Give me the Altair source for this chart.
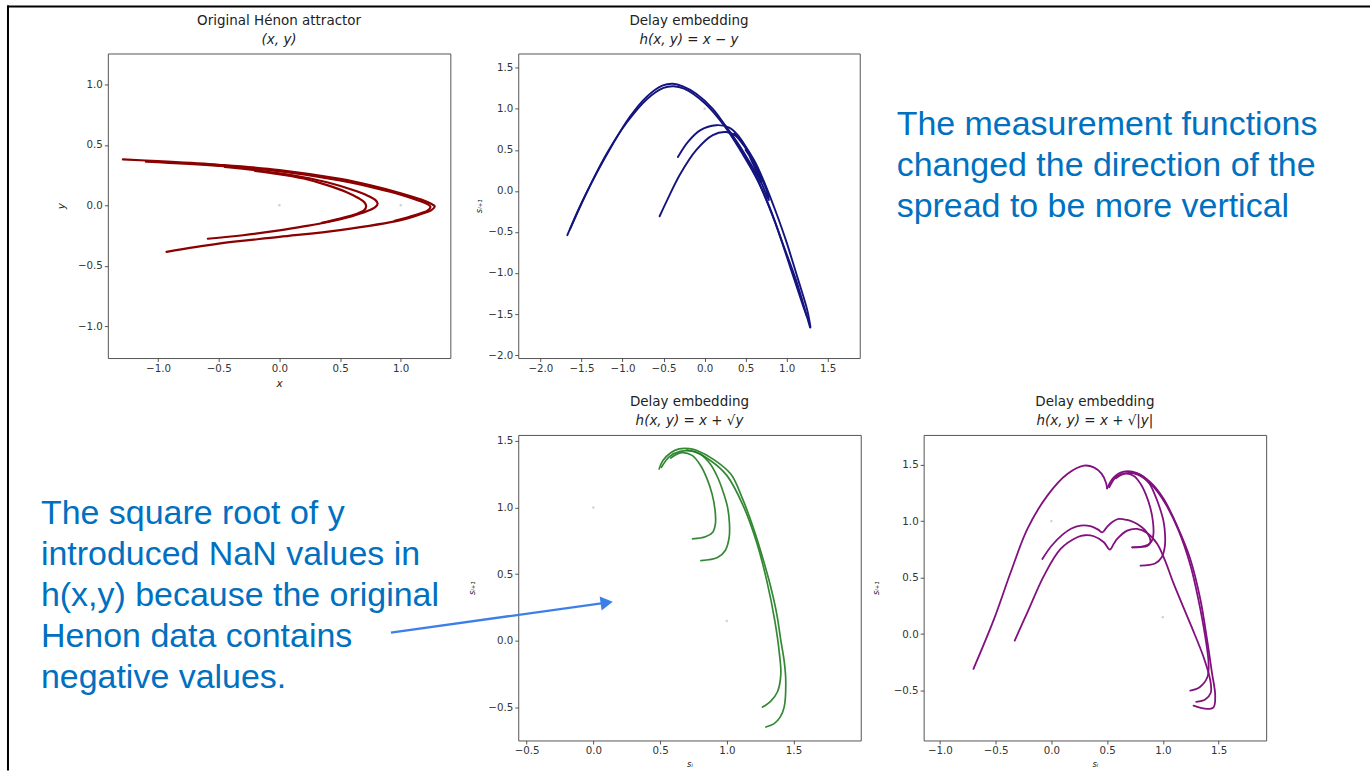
import altair as alt
import pandas as pd

# ---------------- colours / notes ----------------
NOTE_COLOR = "#0070C0"
ARROW_COLOR = "#3D7FE8"
RIGHT_NOTE = ["The measurement functions", "changed the direction of the", "spread to be more vertical"]
LEFT_NOTE = ["The square root of y", "introduced NaN values in", "h(x,y) because the original",
             "Henon data contains", "negative values."]

# ---------------- Panel 1: original Hénon attractor (x, y) ----------------
HENON_OUTER_X = [-1.29, -1.0, -0.5, 0.0, 0.5, 0.76, 1.0, 1.17, 1.25, 1.28, 1.25, 1.17, 1.0, 0.5, 0.0, -0.5, -0.93]
HENON_OUTER_Y = [0.38, 0.365, 0.335, 0.292, 0.218, 0.163, 0.10, 0.047, 0.012, -0.008, -0.042, -0.072, -0.123, -0.205, -0.262, -0.317, -0.385]
HENON_OUTER2_X = [-1.10, -0.5, 0.0, 0.5, 0.8, 1.0, 1.15, 1.22, 1.245, 1.22, 1.12, 0.95]
HENON_OUTER2_Y = [0.36, 0.326, 0.282, 0.205, 0.14, 0.088, 0.038, 0.01, -0.012, -0.045, -0.08, -0.128]
HENON_INNER_X = [-0.45, -0.2, 0.0, 0.2, 0.4, 0.6, 0.72, 0.79, 0.81, 0.79, 0.72, 0.6, 0.4, 0.2, 0.0, -0.3, -0.59]
HENON_INNER_Y = [0.318, 0.29, 0.265, 0.232, 0.188, 0.128, 0.083, 0.045, 0.015, -0.015, -0.05, -0.09, -0.138, -0.175, -0.208, -0.248, -0.277]
HENON_INNER2_X = [-0.2, 0.05, 0.2, 0.4, 0.55, 0.65, 0.70, 0.715, 0.70, 0.64, 0.5, 0.35]
HENON_INNER2_Y = [0.285, 0.25, 0.222, 0.165, 0.11, 0.06, 0.025, -0.008, -0.04, -0.07, -0.11, -0.145]
HENON_DOTS_X = [0.0, 1.0]
HENON_DOTS_Y = [0.0, 0.0]
P1_TICKS = [-1.0, -0.5, 0.0, 0.5, 1.0]

# ---------------- Panel 2: h(x, y) = x - y ----------------
DIFF_BIG_X = [-1.672, -1.522, -1.319, -1.116, -0.913, -0.71, -0.508, -0.386, -0.264, -0.102, 0.10, 0.263, 0.425, 0.628, 0.79, 0.952, 1.114, 1.236, 1.285]
DIFF_BIG_Y = [-0.54, -0.195, 0.21, 0.575, 0.90, 1.143, 1.285, 1.305, 1.273, 1.184, 1.0, 0.778, 0.535, 0.17, -0.195, -0.641, -1.087, -1.493, -1.665]
DIFF_BIG2_X = [-1.64, -1.45, -1.2, -0.95, -0.7, -0.5, -0.38, -0.25, 0.0, 0.25, 0.45, 0.65, 0.85, 1.05, 1.2, 1.245]
DIFF_BIG2_Y = [-0.47, -0.05, 0.44, 0.83, 1.12, 1.255, 1.275, 1.245, 1.07, 0.78, 0.47, 0.12, -0.36, -0.95, -1.4, -1.53]
DIFF_LOOP_X = [0.25, 0.42, 0.56, 0.65, 0.689, 0.672, 0.61, 0.50, 0.36]
DIFF_LOOP_Y = [0.80, 0.56, 0.33, 0.17, 0.097, 0.18, 0.33, 0.52, 0.70]
DIFF_ARC_UP_X = [-0.325, -0.2, -0.05, 0.14, 0.30, 0.45, 0.588, 0.70, 0.782, 0.765, 0.71, 0.62, 0.50]
DIFF_ARC_UP_Y = [0.413, 0.60, 0.74, 0.80, 0.77, 0.62, 0.332, 0.08, -0.114, -0.02, 0.12, 0.31, 0.50]
DIFF_ARC_LOW_X = [-0.548, -0.45, -0.30, -0.10, 0.10, 0.263, 0.42, 0.60, 0.75, 0.87, 0.99, 1.13, 1.25, 1.29]
DIFF_ARC_LOW_Y = [-0.309, -0.10, 0.20, 0.50, 0.68, 0.717, 0.64, 0.38, 0.05, -0.26, -0.60, -1.05, -1.45, -1.66]
DIFF_DOTS_X = [0.0]
DIFF_DOTS_Y = [1.0]
P2_TICKS = [-2.0, -1.5, -1.0, -0.5, 0.0, 0.5, 1.0, 1.5]

# ---------------- Panel 3: h(x, y) = x + sqrt(y) ----------------
SQRT_OUTER_X = [0.493, 0.52, 0.58, 0.643, 0.72, 0.781, 0.90, 1.03, 1.12, 1.205, 1.27, 1.33, 1.375, 1.405, 1.43, 1.442, 1.43, 1.40, 1.355, 1.293]
SQRT_OUTER_Y = [1.288, 1.35, 1.41, 1.438, 1.44, 1.425, 1.36, 1.25, 1.06, 0.83, 0.62, 0.403, 0.2, 0.004, -0.15, -0.295, -0.495, -0.57, -0.619, -0.644]
SQRT_OUTER2_X = [0.51, 0.57, 0.65, 0.75, 0.88, 1.0, 1.12, 1.22, 1.30, 1.36, 1.395, 1.405, 1.38, 1.33, 1.268]
SQRT_OUTER2_Y = [1.30, 1.38, 1.42, 1.42, 1.35, 1.24, 1.02, 0.75, 0.45, 0.15, -0.10, -0.25, -0.38, -0.45, -0.495]
SQRT_HOOK1_X = [0.58, 0.66, 0.74, 0.80, 0.85, 0.89, 0.912, 0.915, 0.895, 0.84, 0.743]
SQRT_HOOK1_Y = [1.37, 1.41, 1.39, 1.32, 1.22, 1.10, 0.98, 0.88, 0.815, 0.78, 0.765]
SQRT_HOOK2_X = [0.70, 0.80, 0.88, 0.931, 0.975, 1.006, 1.02, 1.018, 0.99, 0.93, 0.806]
SQRT_HOOK2_Y = [1.43, 1.40, 1.32, 1.226, 1.11, 1.001, 0.88, 0.777, 0.68, 0.625, 0.602]
SQRT_DOTS_X = [0.0, 1.0]
SQRT_DOTS_Y = [1.0, 0.15]
P3_TICKS = [-0.5, 0.0, 0.5, 1.0, 1.5]
ARROW_X = [-1.517, 0.10]
ARROW_Y = [0.063, 0.287]

# ---------------- Panel 4: h(x, y) = x + sqrt(|y|) ----------------
ABS_LEFT_X = [-0.699, -0.514, -0.365, -0.215, -0.036, 0.143, 0.292, 0.381, 0.45, 0.49, 0.50]
ABS_LEFT_Y = [-0.308, 0.134, 0.547, 0.931, 1.226, 1.417, 1.491, 1.476, 1.42, 1.34, 1.29]
ABS_RIGHT_X = [0.50, 0.56, 0.65, 0.769, 0.888, 1.008, 1.127, 1.246, 1.336, 1.396, 1.44, 1.47, 1.455, 1.396, 1.276]
ABS_RIGHT_Y = [1.29, 1.388, 1.438, 1.426, 1.344, 1.196, 0.96, 0.665, 0.311, -0.043, -0.338, -0.544, -0.648, -0.662, -0.633]
ABS_RIGHT2_X = [0.52, 0.58, 0.67, 0.78, 0.90, 1.02, 1.14, 1.25, 1.32, 1.38, 1.41, 1.40, 1.33, 1.246]
ABS_RIGHT2_Y = [1.30, 1.39, 1.425, 1.41, 1.32, 1.16, 0.92, 0.60, 0.30, -0.02, -0.25, -0.38, -0.47, -0.50]
ABS_HOOK1_X = [0.58, 0.66, 0.74, 0.80, 0.85, 0.89, 0.912, 0.915, 0.895, 0.84, 0.725]
ABS_HOOK1_Y = [1.38, 1.42, 1.40, 1.33, 1.23, 1.11, 0.99, 0.88, 0.815, 0.78, 0.768]
ABS_HOOK2_X = [0.70, 0.80, 0.88, 0.93, 0.975, 1.006, 1.02, 1.018, 0.99, 0.93, 0.80]
ABS_HOOK2_Y = [1.43, 1.41, 1.33, 1.23, 1.11, 1.0, 0.88, 0.777, 0.68, 0.625, 0.606]
ABS_MID_UP_X = [-0.081, 0.0, 0.10, 0.18, 0.262, 0.35, 0.42, 0.457, 0.50, 0.55, 0.605, 0.68, 0.74, 0.80, 0.844, 0.88, 0.889, 0.86, 0.80, 0.725]
ABS_MID_UP_Y = [0.665, 0.78, 0.88, 0.935, 0.96, 0.955, 0.925, 0.90, 0.95, 0.995, 1.02, 1.01, 0.99, 0.955, 0.916, 0.86, 0.81, 0.78, 0.77, 0.768]
ABS_MID_LOW_X = [-0.329, -0.215, -0.066, 0.083, 0.232, 0.30, 0.381, 0.471, 0.524, 0.56, 0.59, 0.68, 0.769, 0.859, 0.949, 1.02, 1.098, 1.247, 1.366, 1.426, 1.43, 1.38, 1.30]
ABS_MID_LOW_Y = [-0.058, 0.193, 0.518, 0.754, 0.857, 0.875, 0.866, 0.813, 0.748, 0.80, 0.842, 0.916, 0.931, 0.895, 0.80, 0.65, 0.444, 0.09, -0.205, -0.412, -0.52, -0.58, -0.60]
ABS_DOTS_X = [0.0, 1.0]
ABS_DOTS_Y = [1.0, 0.15]
P4_XTICKS = [-1.0, -0.5, 0.0, 0.5, 1.0, 1.5]
P4_YTICKS = [-0.5, 0.0, 0.5, 1.0, 1.5]


def segments_df(segs):
    rows = []
    for name, xs, ys in segs:
        for i, (xv, yv) in enumerate(zip(xs, ys)):
            rows.append({"seg": name, "i": i, "x": xv, "y": yv})
    return pd.DataFrame(rows)


def xy_enc(xdom, ydom, xticks, yticks, xtitle, ytitle, xtp, ytp, tsize):
    x = alt.X("x:Q", scale=alt.Scale(domain=xdom, nice=False, zero=False),
              axis=alt.Axis(values=xticks, format=".1f", title=xtitle, titlePadding=xtp, titleFontSize=tsize))
    y = alt.Y("y:Q", scale=alt.Scale(domain=ydom, nice=False, zero=False),
              axis=alt.Axis(values=yticks, format=".1f", title=ytitle, titlePadding=ytp, titleFontSize=tsize))
    return x, y


def title_params(text, sub):
    return alt.TitleParams(text=text, subtitle=sub, font="DejaVu Sans", fontSize=13.5, fontWeight="normal",
                           color="#222222", subtitleFont="DejaVu Sans", subtitleFontSize=13.5,
                           subtitleFontStyle="italic", subtitleColor="#222222", anchor="middle",
                           frame="group", offset=7, subtitlePadding=6)


def curve_layers(segs, dots, color, sw, x, y, opacity=1.0):
    lines = alt.Chart(segments_df(segs)).mark_line(
        color=color, strokeWidth=sw, interpolate="catmull-rom", strokeCap="round",
        strokeJoin="round", opacity=opacity
    ).encode(x=x, y=y, detail="seg:N", order="i:Q")
    pts = alt.Chart(pd.DataFrame({"x": dots[0], "y": dots[1]})).mark_point(
        filled=True, size=6, color="#c4c4c4", opacity=0.8
    ).encode(x=x, y=y)
    return [lines, pts]


def note_text(lines, dx, dy):
    return alt.Chart(pd.DataFrame({"t": ["\n".join(lines)]})).mark_text(
        align="left", baseline="alphabetic", font="Liberation Sans", fontSize=34, lineHeight=41,
        lineBreak="\n", color=NOTE_COLOR
    ).encode(text="t:N", x=alt.value(dx), y=alt.value(dy))


one = pd.DataFrame({"k": [0]})

# ---- panel 1 ----
x1, y1 = xy_enc([-1.414, 1.409], [-1.264, 1.256], P1_TICKS, P1_TICKS, "x", "y", 5, 11, 10.5)
p1 = alt.layer(
    *curve_layers([("outer", HENON_OUTER_X, HENON_OUTER_Y), ("outer2", HENON_OUTER2_X, HENON_OUTER2_Y),
                   ("inner", HENON_INNER_X, HENON_INNER_Y), ("inner2", HENON_INNER2_X, HENON_INNER2_Y)],
                  (HENON_DOTS_X, HENON_DOTS_Y), "#8B0000", 2.2, x1, y1)
).properties(width=343, height=305, title=title_params("Original Hénon attractor", "(x, y)"))

# ---- panel 2 ----
x2, y2 = xy_enc([-2.27, 1.89], [-2.036, 1.674], P2_TICKS, P2_TICKS, "", "sᵢ₊₁", 5, 4, 8.5)
p2 = alt.layer(
    *curve_layers([("big", DIFF_BIG_X, DIFF_BIG_Y), ("big2", DIFF_BIG2_X, DIFF_BIG2_Y),
                   ("loop", DIFF_LOOP_X, DIFF_LOOP_Y), ("up", DIFF_ARC_UP_X, DIFF_ARC_UP_Y),
                   ("low", DIFF_ARC_LOW_X, DIFF_ARC_LOW_Y)],
                  (DIFF_DOTS_X, DIFF_DOTS_Y), "#14147F", 1.9, x2, y2)
).properties(width=342, height=305, title=title_params("Delay embedding", "h(x, y) = x − y"))

# ---- right note cell (top row, third column) with the slide frame ----
frame_top = alt.Chart(one).mark_rule(color="black", strokeWidth=2).encode(
    x=alt.value(-918), x2=alt.value(447), y=alt.value(-47))
frame_left = alt.Chart(one).mark_rule(color="black", strokeWidth=2).encode(
    x=alt.value(-917), y=alt.value(-48), y2=alt.value(718))
right_cell = alt.layer(
    note_text(RIGHT_NOTE, -27, 82), frame_top, frame_left
).properties(width=60, height=305, view=alt.ViewBackground(stroke="transparent"))

# ---- panel 3 ----
x3, y3 = xy_enc([-0.563, 2.004], [-0.745, 1.543], P3_TICKS, P3_TICKS, "sᵢ", "sᵢ₊₁", 3, 11, 8.5)
arrow_df = pd.DataFrame({"x": ARROW_X, "y": ARROW_Y, "i": list(range(len(ARROW_X)))})
arrow_line = alt.Chart(arrow_df).mark_line(color=ARROW_COLOR, strokeWidth=2.4).encode(x=x3, y=y3, order="i:Q")
arrow_head = alt.Chart(arrow_df.tail(1)).mark_point(
    shape="triangle-right", filled=True, size=200, angle=352, color=ARROW_COLOR, opacity=1
).encode(x=x3, y=y3)
p3 = alt.layer(
    *curve_layers([("outer", SQRT_OUTER_X, SQRT_OUTER_Y), ("outer2", SQRT_OUTER2_X, SQRT_OUTER2_Y),
                   ("hook1", SQRT_HOOK1_X, SQRT_HOOK1_Y), ("hook2", SQRT_HOOK2_X, SQRT_HOOK2_Y)],
                  (SQRT_DOTS_X, SQRT_DOTS_Y), "#1E7B1E", 1.7, x3, y3, opacity=0.9),
    arrow_line, arrow_head
).properties(width=343, height=306, title=title_params("Delay embedding", "h(x, y) = x + √y"))

# ---- panel 4 ----
x4, y4 = xy_enc([-1.146, 1.927], [-0.942, 1.763], P4_XTICKS, P4_YTICKS, "sᵢ", "sᵢ₊₁", 3, 13, 8.5)
p4 = alt.layer(
    *curve_layers([("left", ABS_LEFT_X, ABS_LEFT_Y), ("right", ABS_RIGHT_X, ABS_RIGHT_Y),
                   ("right2", ABS_RIGHT2_X, ABS_RIGHT2_Y), ("hook1", ABS_HOOK1_X, ABS_HOOK1_Y),
                   ("hook2", ABS_HOOK2_X, ABS_HOOK2_Y), ("midup", ABS_MID_UP_X, ABS_MID_UP_Y),
                   ("midlow", ABS_MID_LOW_X, ABS_MID_LOW_Y)],
                  (ABS_DOTS_X, ABS_DOTS_Y), "#82107F", 1.8, x4, y4)
).properties(width=343, height=306, title=title_params("Delay embedding", "h(x, y) = x + √|y|"))

# ---- left note cell (bottom row, first column) ----
left_cell = note_text(LEFT_NOTE, -67, 89).properties(
    width=348, height=306, view=alt.ViewBackground(stroke="transparent"))

chart = alt.concat(
    p1, p2, right_cell, left_cell, p3, p4,
    columns=3, spacing=alt.RowColnumber(row=76, column=63), bounds="flush",
    align=alt.RowColLayoutAlign(row="all", column="none")
).properties(
    padding={"left": 5, "top": 3, "right": 0, "bottom": 0},
    background="white"
).configure_view(
    stroke="#555555", strokeWidth=1
).configure_axis(
    labelFont="DejaVu Sans", labelFontSize=10.3, labelColor="#333333", tickColor="#444444",
    tickSize=3.5, tickWidth=0.9, domain=False, grid=False, labelPadding=2, labelFlush=False,
    labelOverlap=False, titleFont="DejaVu Sans", titleFontStyle="italic", titleFontWeight="normal",
    titleColor="#222222"
)

chart.save("out.html", embed_options={"renderer": "svg", "actions": False})
